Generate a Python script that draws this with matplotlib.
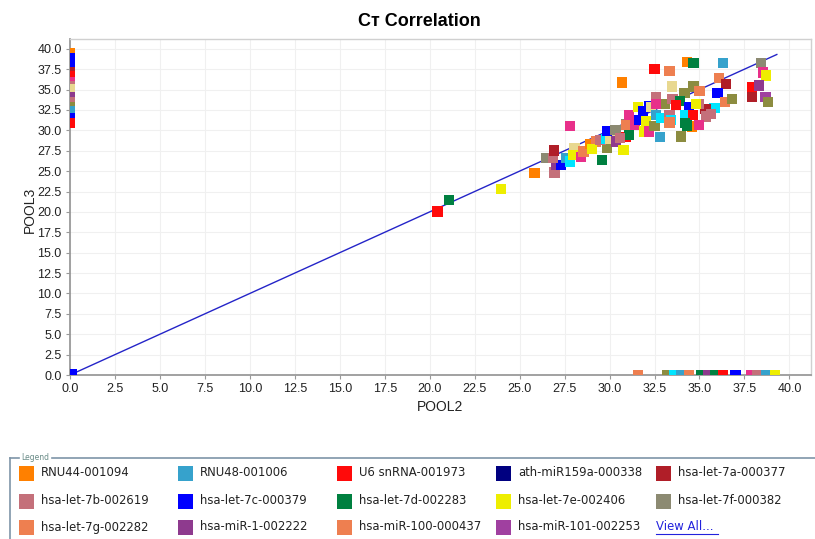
import numpy as np
import matplotlib
matplotlib.use("Agg")
import matplotlib.pyplot as plt
from matplotlib.patches import Rectangle
from matplotlib.lines import Line2D

plt.rcParams['font.family'] = ['Liberation Sans', 'DejaVu Sans']

# assay colours (legend entries first, then assays hidden behind "View All...")
assay_colors = {
    'RNU44-001094': '#FF8000',
    'RNU48-001006': '#36A2CC',
    'U6 snRNA-001973': '#FF0A0A',
    'ath-miR159a-000338': '#000080',
    'hsa-let-7a-000377': '#B01E28',
    'hsa-let-7b-002619': '#C4707A',
    'hsa-let-7c-000379': '#0000FF',
    'hsa-let-7d-002283': '#008040',
    'hsa-let-7e-002406': '#EEEE00',
    'hsa-let-7f-000382': '#8C8A72',
    'hsa-let-7g-002282': '#EE7F50',
    'hsa-miR-1-002222': '#8E3A8E',
    'hsa-miR-100-000437': '#EE7F50',
    'hsa-miR-101-002253': '#A040A0',
    'hsa-miR-103-000439': '#E8308A',
    'hsa-miR-106a-002169': '#00E5FF',
    'hsa-miR-106b-000442': '#E8D890',
    'hsa-miR-107-000443': '#8C8C40',
}
legend_names = list(assay_colors)[:14]

# short codes used in the point table
code = {
    'RNU44': 'RNU44-001094', 'RNU48': 'RNU48-001006', 'U6': 'U6 snRNA-001973',
    'miR159a': 'ath-miR159a-000338', 'let7a': 'hsa-let-7a-000377',
    'let7b': 'hsa-let-7b-002619', 'let7c': 'hsa-let-7c-000379',
    'let7d': 'hsa-let-7d-002283', 'let7e': 'hsa-let-7e-002406',
    'let7f': 'hsa-let-7f-000382', 'let7g': 'hsa-let-7g-002282',
    'miR1': 'hsa-miR-1-002222', 'miR100': 'hsa-miR-100-000437',
    'miR101': 'hsa-miR-101-002253', 'miR103': 'hsa-miR-103-000439',
    'miR106a': 'hsa-miR-106a-002169', 'miR106b': 'hsa-miR-106b-000442',
    'miR107': 'hsa-miR-107-000443',
}

# Ct values (0 = undetermined in that pool)
pool2 = [
    20.43, 21.06, 23.98, 25.83, 26.94, 27.0, 27.3, 26.48, 26.85, 26.9,
    27.6, 27.8, 28.05, 28.0, 28.4, 28.55, 27.78, 28.9, 29.26, 29.04,
    29.6, 29.85, 29.5, 29.78, 30.04, 29.85, 30.33, 30.37, 30.78, 30.93,
    31.1, 30.9, 30.93, 30.56, 31.4, 31.06, 31.57, 31.67, 31.85, 32.2,
    31.9, 32.04, 32.2, 32.3, 32.5, 30.7, 32.5, 33.33, 34.3, 34.67,
    36.3, 38.43, 38.52, 38.7, 36.1, 36.48, 37.93, 38.3, 37.9, 38.67,
    38.8, 33.46, 34.67, 35.0, 36.0, 36.44, 36.8, 34.17, 32.56, 33.06,
    33.5, 33.9, 35.83, 35.33, 34.96, 35.65, 35.37, 34.4, 34.8, 34.2,
    34.63, 32.56, 32.87, 33.33, 33.4, 33.33, 34.2, 34.6, 34.96, 32.8,
    33.98, 32.6, 33.7, 34.3,
    0, 0, 0, 0, 0, 0, 0, 0, 0, 0, 0, 0, 0, 0, 0, 0,
    31.6, 33.2, 33.6, 34.0, 34.4, 35.1, 35.5, 35.85, 36.3, 37.0, 37.85, 38.2, 38.7, 39.2,
    0.1,
]
pool3 = [
    20.04, 21.47, 22.82, 24.75, 24.82, 25.77, 25.77, 26.58, 26.58, 27.52,
    26.58, 26.18, 27.8, 27.0, 26.7, 27.4, 30.5, 28.34, 28.63, 27.7,
    26.38, 27.9, 28.83, 28.9, 28.9, 29.94, 30.06, 28.63, 27.6, 29.15,
    29.45, 30.8, 30.67, 29.04, 30.67, 31.9, 32.9, 31.3, 32.3, 33.0,
    29.85, 31.1, 29.85, 32.9, 30.55, 35.87, 37.5, 37.3, 38.36, 38.3,
    38.23, 38.3, 37.1, 36.72, 36.4, 35.7, 35.3, 35.5, 34.05, 34.07,
    33.5, 35.38, 35.38, 34.8, 34.55, 33.45, 33.8, 34.55, 34.07, 33.25,
    33.8, 33.55, 32.7, 32.6, 33.25, 32.0, 31.7, 32.83, 33.25, 31.9,
    31.9, 31.9, 31.5, 31.9, 31.3, 30.96, 30.88, 30.47, 30.67, 29.15,
    29.24, 33.25, 33.1, 30.6,
    39.5, 38.8, 38.4, 37.1, 36.6, 35.9, 35.4, 35.0, 34.6, 34.1, 33.5, 32.8, 32.3, 31.9, 31.5, 30.9,
    0, 0, 0, 0, 0, 0, 0, 0, 0, 0, 0, 0, 0, 0,
    0.1,
]
assay = [
    'U6', 'let7d', 'let7e', 'RNU44', 'let7b', 'miR1', 'let7c', 'let7f', 'let7b', 'let7a',
    'RNU48', 'miR106a', 'miR106b', 'let7e', 'miR103', 'let7g', 'miR103', 'RNU44', 'let7g', 'let7e',
    'let7d', 'miR107', 'let7b', 'miR106a', 'miR106b', 'let7c', 'let7f', 'miR1', 'let7e', 'U6',
    'let7d', 'let7f', 'let7g', 'let7b', 'miR103', 'miR103', 'let7e', 'let7c', 'let7c', 'let7c',
    'let7e', 'let7e', 'miR103', 'miR106b', 'miR107', 'RNU44', 'U6', 'let7g', 'RNU44', 'let7d',
    'RNU48', 'let7f', 'miR103', 'let7e', 'let7g', 'let7a', 'U6', 'miR1', 'let7a', 'miR101',
    'miR107', 'miR106b', 'miR107', 'let7g', 'let7c', 'let7g', 'miR107', 'miR107', 'let7b', 'miR107',
    'let7b', 'let7d', 'miR106a', 'let7a', 'let7b', 'let7b', 'let7b', 'let7c', 'let7e', 'miR106a',
    'U6', 'RNU48', 'miR106a', 'let7b', 'miR106a', 'let7g', 'let7d', 'RNU44', 'miR103', 'RNU48',
    'miR107', 'miR103', 'U6', 'let7d',
    'RNU44', 'let7c', 'let7c', 'let7a', 'U6', 'miR103', 'let7b', 'miR106b', 'miR106b', 'miR1',
    'let7b', 'miR107', 'RNU48', 'RNU48', 'let7c', 'U6',
    'miR100', 'miR107', 'miR106a', 'RNU48', 'let7g', 'let7d', 'miR1', 'let7d', 'U6', 'let7c',
    'miR103', 'let7b', 'RNU48', 'let7e',
    'let7c',
]

fit_end = 39.3
ticks = np.arange(0, 40.01, 2.5)

fig = plt.figure(figsize=(8.15, 5.39), dpi=100)
W, H = 815, 539
ax = fig.add_axes([70 / W, (H - 375) / H, 741 / W, 336 / H])

colors = [assay_colors[code[a]] for a in assay]
ax.scatter(pool2, pool3, c=colors, marker='s', s=54, linewidths=0, zorder=3)
ax.plot([0, fit_end], [0, fit_end], color='#2424C8', lw=1.0, zorder=2)

ax.set_xlim(0, 41.2)
ax.set_ylim(0, 41.2)
ax.set_xticks(ticks)
ax.set_yticks(ticks)
ax.set_xticklabels([f'{t:.1f}' for t in ticks])
ax.set_yticklabels([f'{t:.1f}' for t in ticks])
ax.tick_params(labelsize=9, colors='#222222', length=3, width=0.8, pad=3)
ax.tick_params(axis='both', color='#999999')
ax.grid(True, color='#F0F0F0', lw=0.8, zorder=0)
ax.set_axisbelow(True)
for side in ('left', 'bottom'):
    ax.spines[side].set_color('#9A9A9A')
    ax.spines[side].set_linewidth(1.3)
for side in ('top', 'right'):
    ax.spines[side].set_color('#D0D0D0')
    ax.spines[side].set_linewidth(1.0)

fig.text(419 / W, 1 - 21 / H, 'C\u0442 Correlation', ha='center', va='center',
         fontsize=13, fontweight='bold', family=['Liberation Sans', 'DejaVu Sans'])
fig.text(440 / W, 1 - 407 / H, 'POOL2', ha='center', va='center', fontsize=10, color='#222222')
fig.text(30 / W, 1 - 210 / H, 'POOL3', ha='center', va='center', fontsize=10,
         rotation=90, color='#222222')

# legend panel
frame = '#7E95A8'
fig.add_artist(Line2D([10 / W, 10 / W], [1 - 458 / H, 0], transform=fig.transFigure, color=frame, lw=1.2))
fig.add_artist(Line2D([10 / W, 19 / W], [1 - 458 / H] * 2, transform=fig.transFigure, color=frame, lw=1.2))
fig.add_artist(Line2D([52 / W, 1.0], [1 - 458 / H] * 2, transform=fig.transFigure, color=frame, lw=1.2))
fig.text(21 / W, 1 - 458 / H, 'Legend', ha='left', va='center', fontsize=5.5,
         color='#6A8C88', family='DejaVu Sans')

col_x = [19, 178, 337, 496, 656]
row_y = [473, 501, 527]
for i, name in enumerate(legend_names):
    r, c = divmod(i, 5)
    x0, yc = col_x[c], row_y[r]
    fig.add_artist(Rectangle((x0 / W, 1 - (yc + 7.5) / H), 15 / W, 15 / H,
                             transform=fig.transFigure, facecolor=assay_colors[name],
                             edgecolor='none'))
    fig.text((x0 + 22) / W, 1 - yc / H, name, ha='left', va='center', fontsize=8.4,
             color='#222222', family='DejaVu Sans')
fig.text((col_x[4]) / W, 1 - row_y[2] / H, 'View All...', ha='left', va='center',
         fontsize=8.4, color='#2222DD', family='DejaVu Sans')
fig.add_artist(Line2D([col_x[4] / W, (col_x[4] + 62) / W], [1 - (row_y[2] + 7) / H] * 2,
                      transform=fig.transFigure, color='#2222DD', lw=0.8))

fig.savefig('out.png', dpi=100)
